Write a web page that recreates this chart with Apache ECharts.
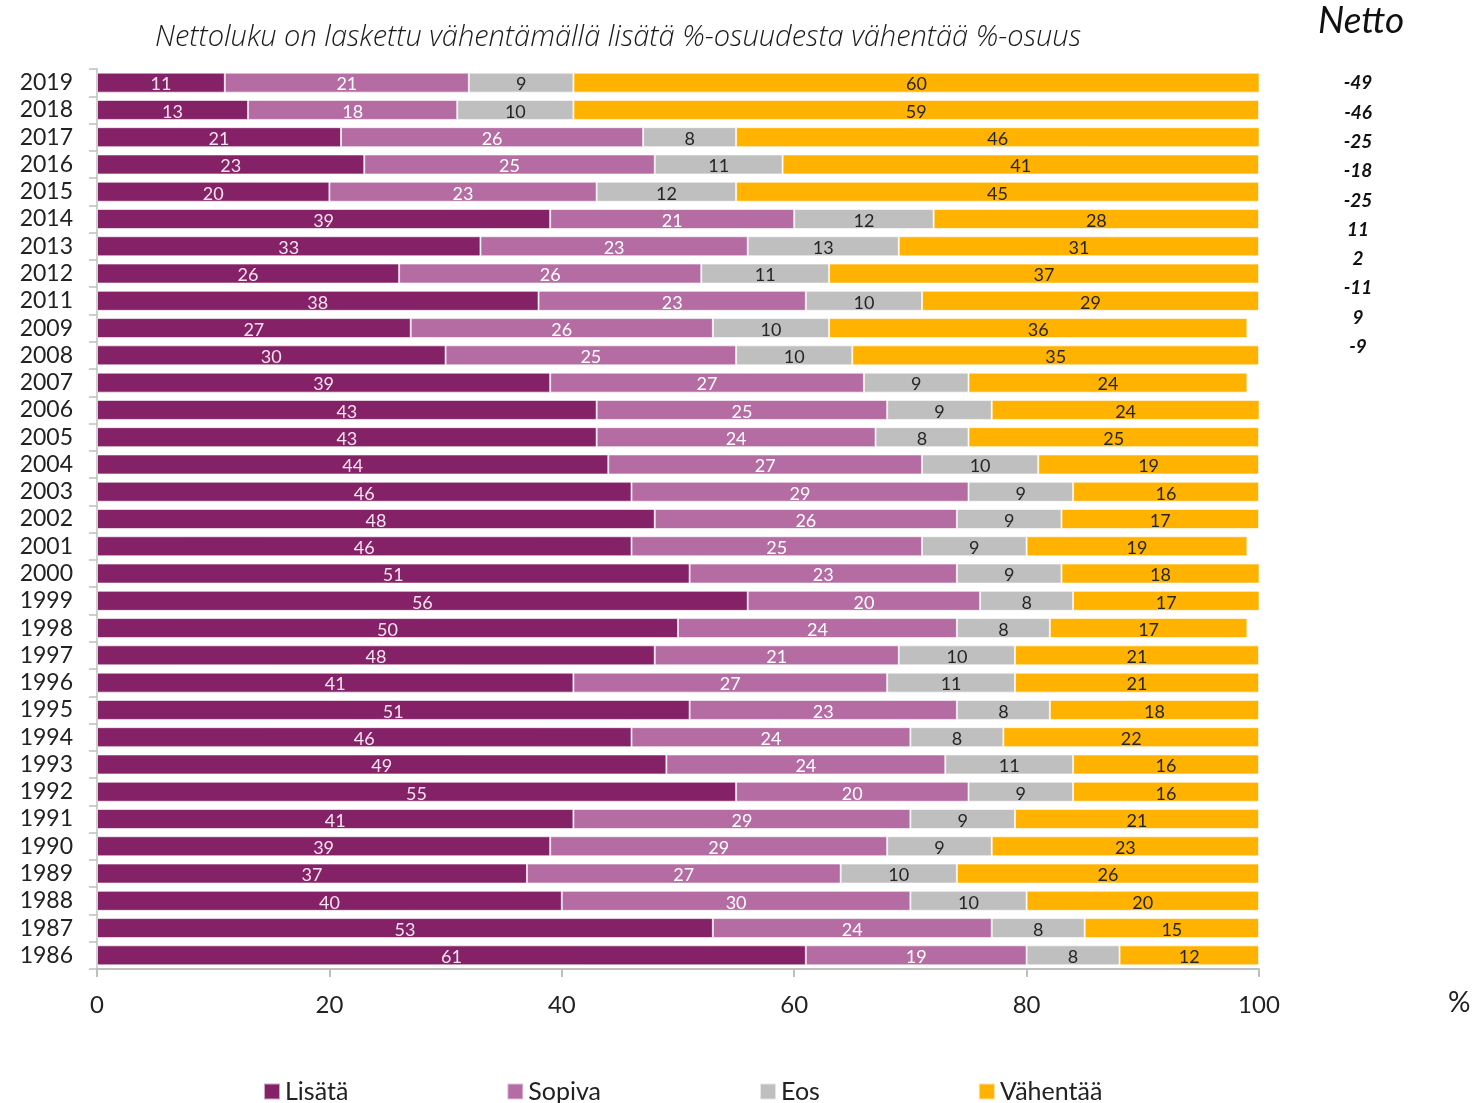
<!DOCTYPE html>
<html>
<head>
<meta charset="utf-8">
<script src="https://cdn.jsdelivr.net/npm/echarts@6/dist/echarts.min.js"></script>
<style>
  html, body { margin: 0; padding: 0; background: #fff; }
  #chart { width: 1481px; height: 1103px; }
</style>
</head>
<body>
<div id="chart"></div>
<script>
// vuodet ylhäältä alas
var years = ['2019', '2018', '2017', '2016', '2015', '2014', '2013', '2012', '2011', '2009', '2008',
    '2007', '2006', '2005', '2004', '2003', '2002', '2001', '2000', '1999', '1998', '1997',
    '1996', '1995', '1994', '1993', '1992', '1991', '1990', '1989', '1988', '1987', '1986'];
var lisata = [11, 13, 21, 23, 20, 39, 33, 26, 38, 27, 30,
    39, 43, 43, 44, 46, 48, 46, 51, 56, 50, 48, 41, 51, 46, 49, 55, 41, 39, 37, 40, 53, 61];
var sopiva = [21, 18, 26, 25, 23, 21, 23, 26, 23, 26, 25,
    27, 25, 24, 27, 29, 26, 25, 23, 20, 24, 21, 27, 23, 24, 24, 20, 29, 29, 27, 30, 24, 19];
var eos = [9, 10, 8, 11, 12, 12, 13, 11, 10, 10, 10,
    9, 9, 8, 10, 9, 9, 9, 9, 8, 8, 10, 11, 8, 8, 11, 9, 9, 9, 10, 10, 8, 8];
var vahentaa = [60, 59, 46, 41, 45, 28, 31, 37, 29, 36, 35,
    24, 24, 25, 19, 16, 17, 19, 18, 17, 17, 21, 21, 18, 22, 16, 16, 21, 23, 26, 20, 15, 12];
var netto = ['-49', '-46', '-25', '-18', '-25', '11', '2', '-11', '9', '-9'];
var xTicks = [0, 20, 40, 60, 80, 100];

var font = 'Lato, "Open Sans", sans-serif';
var axisGray = '#bfbfbf';

function barSeries(name, data, color, labelColor) {
    return {
        name: name,
        type: 'bar',
        stack: 'all',
        data: data,
        barWidth: 20,
        clip: true,
        xAxisIndex: 0,
        yAxisIndex: 0,
        itemStyle: { color: color, borderColor: 'rgba(255,255,255,0.6)', borderWidth: 1 },
        label: {
            show: true,
            position: 'inside',
            color: labelColor,
            fontFamily: font,
            fontSize: 18,
            offset: [0, 2]
        }
    };
}

var chart = echarts.init(document.getElementById('chart'));
var option = {
    animation: false,
    title: [
        {
            text: 'Nettoluku on laskettu vähentämällä lisätä %-osuudesta vähentää %-osuus',
            left: 150, top: 18,
            textStyle: { fontFamily: '"Open Sans", Lato, sans-serif', fontSize: 29, fontStyle: 'italic', fontWeight: 300, color: '#1a1a1a' }
        },
        {
            text: 'Netto',
            left: 1313, top: -2,
            textStyle: { fontFamily: font, fontSize: 37, fontStyle: 'italic', fontWeight: 'normal', color: '#111' }
        },
        {
            text: '%',
            left: 1443, top: 984,
            textStyle: { fontFamily: font, fontSize: 28, fontWeight: 'normal', color: '#222' }
        }
    ],
    legend: {
        left: 258, top: 1074,
        itemWidth: 16, itemHeight: 16, itemGap: 158,
        icon: 'rect',
        textStyle: { fontFamily: font, fontSize: 25, color: '#222' },
        data: ['Lisätä', 'Sopiva', 'Eos', 'Vähentää']
    },
    grid: [
        { left: 97, right: 222, top: 69, height: 900 },
        { left: 1380, width: 20, top: 68.7, height: 292.7 }
    ],
    xAxis: [
        {
            gridIndex: 0,
            type: 'value', min: 0, max: 100, interval: 20,
            splitLine: { show: false },
            axisLine: { show: true, lineStyle: { color: axisGray, width: 2 } },
            axisTick: { show: true, length: 8, lineStyle: { color: axisGray, width: 2 } },
            axisLabel: {
                margin: 24, fontFamily: font, fontSize: 24, color: '#222',
                formatter: function (v) { return xTicks.indexOf(v) >= 0 ? String(v) : ''; }
            }
        },
        { gridIndex: 1, type: 'value', show: false, min: 0, max: 1 }
    ],
    yAxis: [
        {
            gridIndex: 0,
            type: 'category', inverse: true, data: years,
            axisLine: { show: true, lineStyle: { color: axisGray, width: 1.5 } },
            axisTick: { show: true, length: 8, interval: 0, lineStyle: { color: axisGray, width: 1.5 } },
            axisLabel: { interval: 0, margin: 24, fontFamily: font, fontSize: 23, color: '#222' }
        },
        {
            gridIndex: 1,
            type: 'category', inverse: true, data: netto,
            axisLine: { show: false }, axisTick: { show: false },
            axisLabel: {
                interval: 0, margin: 22, align: 'center',
                fontFamily: font, fontSize: 19, fontStyle: 'italic', fontWeight: 'bold', color: '#111'
            }
        }
    ],
    series: [
        barSeries('Lisätä', lisata, '#842167', '#f3e4ee'),
        barSeries('Sopiva', sopiva, '#b46ca3', '#ffffff'),
        barSeries('Eos', eos, '#bfbfbf', '#262626'),
        barSeries('Vähentää', vahentaa, '#ffb300', '#262626')
    ]
};
chart.setOption(option);
</script>
</body>
</html>
